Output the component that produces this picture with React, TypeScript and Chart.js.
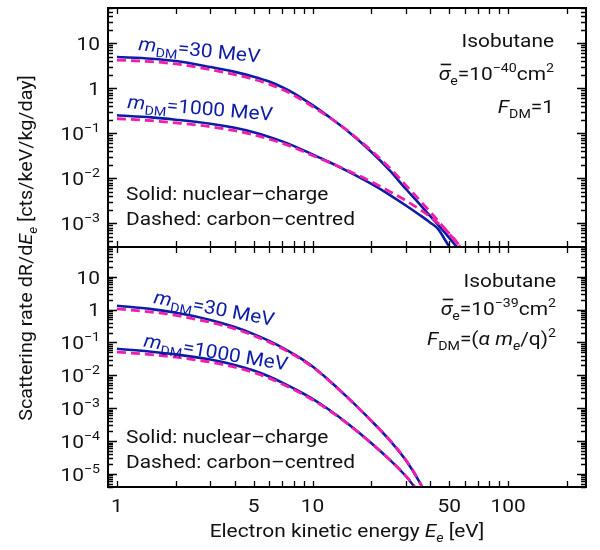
import React, { useEffect, useRef } from 'react';
import { Chart, registerables } from 'chart.js';
Chart.register(...registerables);

const FONT = 'Roboto, "DejaVu Sans", sans-serif';
const BLUE = '#0c1ca6';
const PINK = '#f41cac';

// ---------- data (Electron energy in eV, rate in cts/keV/kg/day) ----------
const topSolid30E = [1, 1.5, 2, 3, 4, 5, 6, 7, 8, 10, 12, 15, 20, 25, 30, 35, 40, 45, 50, 55, 60];
const topSolid30 = [4.9, 4.5, 4.0, 2.95, 2.3, 1.8, 1.4, 1.05, 0.78, 0.42, 0.24, 0.115, 0.0385, 0.0145, 0.0058, 0.0028, 0.00145, 0.00082, 0.00048, 0.00029, 0.00018];
const topDashed30E = [1, 1.5, 2, 3, 4, 5, 6, 7, 8, 10, 12, 15, 20, 25, 30, 35, 40, 45, 50, 55, 60];
const topDashed30 = [4.2, 3.87, 3.45, 2.58, 2.0, 1.57, 1.23, 0.93, 0.7, 0.39, 0.235, 0.117, 0.041, 0.0165, 0.007, 0.0034, 0.0018, 0.001, 0.00059, 0.00036, 0.00022];
const topSolid1000E = [1, 1.5, 2, 3, 4, 5, 6, 7, 8, 10, 12, 15, 20, 25, 30, 35, 40, 44, 47, 50, 55];
const topSolid1000 = [0.25, 0.225, 0.2, 0.163, 0.132, 0.105, 0.083, 0.066, 0.0525, 0.034, 0.0236, 0.0146, 0.0075, 0.0042, 0.0025, 0.00158, 0.00104, 0.00074, 0.00047, 0.0003, 0.00012];
const topDashed1000E = [1, 1.5, 2, 3, 4, 5, 6, 7, 8, 10, 12, 15, 20, 25, 30, 35, 40, 45, 50, 55, 60];
const topDashed1000 = [0.21, 0.19, 0.17, 0.14, 0.114, 0.092, 0.074, 0.06, 0.0485, 0.032, 0.0232, 0.0152, 0.0084, 0.005, 0.0032, 0.0021, 0.0014, 0.00092, 0.0006, 0.00037, 0.00022];

const botSolid30E = [1, 1.5, 2, 3, 4, 5, 6, 7, 8, 10, 12, 15, 20, 25, 30, 35, 40];
const botSolid30 = [1.31, 1.03, 0.8, 0.485, 0.293, 0.179, 0.111, 0.07, 0.0444, 0.0186, 0.0075, 0.0022, 0.00041, 0.0001, 0.000026, 0.000006, 0.0000012];
const botDashed30E = [1, 1.5, 2, 3, 4, 5, 6, 7, 8, 10, 12, 15, 20, 25, 30, 35, 40];
const botDashed30 = [1.05, 0.84, 0.66, 0.41, 0.26, 0.162, 0.102, 0.065, 0.042, 0.0178, 0.0073, 0.00218, 0.00041, 0.000102, 0.0000265, 0.0000062, 0.00000125];
const botSolid1000E = [1, 1.5, 2, 3, 4, 5, 6, 7, 8, 10, 12, 15, 20, 25, 30, 35];
const botSolid1000 = [0.064, 0.0523, 0.0433, 0.0301, 0.0207, 0.014, 0.0092, 0.006, 0.004, 0.00192, 0.00094, 0.000354, 0.000086, 0.0000258, 0.0000085, 0.0000027];
const botDashed1000E = [1, 1.5, 2, 3, 4, 5, 6, 7, 8, 10, 12, 15, 20, 25, 30, 35];
const botDashed1000 = [0.051, 0.0425, 0.0356, 0.0252, 0.0177, 0.0122, 0.0082, 0.0054, 0.0037, 0.0018, 0.0009, 0.000345, 0.000085, 0.0000258, 0.0000087, 0.0000028];

// ---------- axes ----------
const xMin = 0.9;
const xMax = 250;
const xTickLabels = [1, 5, 10, 50, 100];
const topYMin = 3e-4;
const topYMax = 60;
const topYTickLabels = ['10', '1', '10^−1', '10^−2', '10^−3'];
const topYTickValues = [10, 1, 0.1, 0.01, 0.001];
const botYMin = 4e-6;
const botYMax = 80;
const botYTickLabels = ['10', '1', '10^−1', '10^−2', '10^−3', '10^−4', '10^−5'];
const botYTickValues = [10, 1, 0.1, 0.01, 0.001, 1e-4, 1e-5];

const S = 19; // main text size
const SX = 1.1; // horizontal glyph stretch of the reference

type Seg = { t: string; it?: boolean; sub?: boolean; sup?: boolean; over?: boolean };

function drawRich(
  ctx: CanvasRenderingContext2D,
  segs: Seg[],
  x: number,
  y: number,
  size: number,
  align: 'left' | 'right' | 'center',
  sx: number = SX
) {
  const fonts = segs.map((s) => {
    const fs = s.sub || s.sup ? size * 0.68 : size;
    return `${s.it ? 'italic ' : ''}${fs}px ${FONT}`;
  });
  let w = 0;
  const ws = segs.map((s, i) => {
    ctx.font = fonts[i];
    const m = ctx.measureText(s.t).width * sx;
    w += m;
    return m;
  });
  let cx = align === 'right' ? x - w : align === 'center' ? x - w / 2 : x;
  ctx.textAlign = 'left';
  ctx.textBaseline = 'alphabetic';
  segs.forEach((s, i) => {
    ctx.font = fonts[i];
    const dy = s.sub ? size * 0.26 : s.sup ? -size * 0.42 : 0;
    ctx.save();
    ctx.translate(cx, y + dy);
    ctx.scale(sx, 1);
    ctx.fillText(s.t, 0, 0);
    ctx.restore();
    if (s.over) ctx.fillRect(cx + 2, y - size * 0.86, ws[i] - 1, 1.6);
    cx += ws[i];
  });
}

function tickSegs(label: string): Seg[] {
  const parts = label.split('^');
  return parts.length > 1 ? [{ t: parts[0] }, { t: parts[1], sup: true }] : [{ t: parts[0] }];
}

function mLabel(mass: string): Seg[] {
  return [{ t: 'm', it: true }, { t: 'DM', sub: true }, { t: '=' + mass + ' MeV' }];
}

type TextItem = { segs: Seg[]; x: number; y: number; angle?: number; align: 'left' | 'right' | 'center'; color: string; size?: number };

function logTicks(min: number, max: number) {
  const major: number[] = [];
  const minor: number[] = [];
  for (let e = Math.floor(Math.log10(min)) - 1; e <= Math.ceil(Math.log10(max)); e++) {
    for (let k = 1; k <= 9; k++) {
      const v = k * Math.pow(10, e);
      if (v < min * 0.9999 || v > max * 1.0001) continue;
      if (k === 1) major.push(v);
      else minor.push(v);
    }
  }
  return { major, minor };
}

function makePanelPlugin(cfg: {
  texts: TextItem[];
  yTickValues: number[];
  yTickLabels: string[];
  bottomAxis: boolean;
}) {
  return {
    id: 'panelDecor',
    afterDatasetsDraw(chart: any) {
      const ctx: CanvasRenderingContext2D = chart.ctx;
      const { left, right, top, bottom } = chart.chartArea;
      const xs = chart.scales.x;
      const ys = chart.scales.y;
      ctx.save();
      ctx.strokeStyle = '#000';
      ctx.fillStyle = '#000';
      // ticks
      ctx.lineWidth = 1.3;
      const yt = logTicks(ys.min, ys.max);
      const drawY = (v: number, len: number) => {
        const py = Math.round(ys.getPixelForValue(v)) + 0.5;
        ctx.beginPath();
        ctx.moveTo(left, py);
        ctx.lineTo(left + len, py);
        ctx.moveTo(right, py);
        ctx.lineTo(right - len, py);
        ctx.stroke();
      };
      yt.major.forEach((v) => drawY(v, 9));
      yt.minor.forEach((v) => drawY(v, 5));
      const xt = logTicks(xs.min, xs.max);
      [...xt.major, ...xt.minor].forEach((v) => {
        const px = Math.round(xs.getPixelForValue(v)) + 0.5;
        ctx.beginPath();
        ctx.moveTo(px, top);
        ctx.lineTo(px, top + 6);
        ctx.moveTo(px, bottom);
        ctx.lineTo(px, bottom - 6);
        ctx.stroke();
      });
      // frame
      ctx.lineWidth = 2;
      ctx.strokeRect(left, top, right - left, bottom - top);
      // y tick labels
      ctx.fillStyle = '#111';
      cfg.yTickValues.forEach((v, i) => {
        const py = ys.getPixelForValue(v);
        drawRich(ctx, tickSegs(cfg.yTickLabels[i]), left - 8, py + S * 0.36, S, 'right');
      });
      if (cfg.bottomAxis) {
        xTickLabels.forEach((v) => {
          const px = xs.getPixelForValue(v);
          drawRich(ctx, [{ t: String(v) }], px, bottom + 25, S, 'center');
        });
        drawRich(
          ctx,
          [{ t: 'Electron kinetic energy ' }, { t: 'E', it: true }, { t: 'e', it: true, sub: true }, { t: ' [eV]' }],
          (left + right) / 2,
          537,
          S,
          'center'
        );
        ctx.save();
        ctx.translate(32, 248);
        ctx.rotate(-Math.PI / 2);
        drawRich(
          ctx,
          [
            { t: 'Scattering rate d' },
            { t: 'R' },
            { t: '/d' },
            { t: 'E', it: true },
            { t: 'e', it: true, sub: true },
            { t: ' [cts/keV/kg/day]' },
          ],
          0,
          0,
          S,
          'center',
          1.04
        );
        ctx.restore();
      }
      // texts
      cfg.texts.forEach((t) => {
        ctx.save();
        ctx.fillStyle = t.color;
        ctx.translate(t.x, t.y);
        if (t.angle) ctx.rotate((t.angle * Math.PI) / 180);
        drawRich(ctx, t.segs, 0, 0, t.size || S, t.align);
        ctx.restore();
      });
      ctx.restore();
    },
  };
}

function ds(label: string, es: number[], vs: number[], dashed: boolean) {
  return {
    label,
    data: es.map((e, i) => ({ x: e, y: vs[i] })),
    borderColor: dashed ? PINK : BLUE,
    borderWidth: dashed ? 2.8 : 2.6,
    borderDash: dashed ? [9, 5] : [],
    pointRadius: 0,
    fill: false,
    cubicInterpolationMode: 'monotone' as const,
    order: dashed ? 0 : 1,
  };
}

function makeConfig(datasets: any[], yMin: number, yMax: number, padding: any, plugin: any) {
  return {
    type: 'line' as const,
    data: { datasets },
    options: {
      animation: false as const,
      responsive: false,
      maintainAspectRatio: false,
      layout: { padding },
      plugins: { legend: { display: false }, tooltip: { enabled: false } },
      scales: {
        x: { type: 'logarithmic' as const, min: xMin, max: xMax, display: false },
        y: { type: 'logarithmic' as const, min: yMin, max: yMax, display: false },
      },
    },
    plugins: [plugin],
  };
}

const notes = (y1: number, y2: number): TextItem[] => [
  { segs: [{ t: 'Solid: nuclear–charge' }], x: 126, y: y1, align: 'left', color: '#111' },
  { segs: [{ t: 'Dashed: carbon–centred' }], x: 126, y: y2, align: 'left', color: '#111' },
];

export default function App() {
  const topRef = useRef<HTMLCanvasElement>(null);
  const botRef = useRef<HTMLCanvasElement>(null);

  useEffect(() => {
    const topTexts: TextItem[] = [
      { segs: mLabel('30'), x: 138, y: 50, angle: 5.9, align: 'left', color: BLUE },
      { segs: mLabel('1000'), x: 127, y: 108, angle: 5, align: 'left', color: BLUE },
      { segs: [{ t: 'Isobutane' }], x: 554, y: 47, align: 'right', color: '#111' },
      {
        segs: [{ t: 'σ', it: true, over: true }, { t: 'e', sub: true }, { t: '=10' }, { t: '−40', sup: true }, { t: 'cm' }, { t: '2', sup: true }],
        x: 554, y: 80, align: 'right', color: '#111',
      },
      { segs: [{ t: 'F', it: true }, { t: 'DM', sub: true }, { t: '=1' }], x: 554, y: 113, align: 'right', color: '#111' },
      ...notes(200, 224.5),
    ];
    const botTexts: TextItem[] = [
      { segs: mLabel('30'), x: 153, y: 303, angle: 10.8, align: 'left', color: BLUE },
      { segs: mLabel('1000'), x: 143, y: 346.5, angle: 9.5, align: 'left', color: BLUE },
      { segs: [{ t: 'Isobutane' }], x: 556, y: 287, align: 'right', color: '#111' },
      {
        segs: [{ t: 'σ', it: true, over: true }, { t: 'e', sub: true }, { t: '=10' }, { t: '−39', sup: true }, { t: 'cm' }, { t: '2', sup: true }],
        x: 556, y: 315, align: 'right', color: '#111',
      },
      {
        segs: [
          { t: 'F', it: true }, { t: 'DM', sub: true }, { t: '=(' }, { t: 'α', it: true }, { t: ' ' },
          { t: 'm', it: true }, { t: 'e', it: true, sub: true }, { t: '/q)' }, { t: '2', sup: true },
        ],
        x: 556, y: 345, align: 'right', color: '#111',
      },
      ...notes(443, 468),
    ];

    const top = new Chart(
      topRef.current!,
      makeConfig(
        [
          ds('30 solid', topSolid30E, topSolid30, false),
          ds('1000 solid', topSolid1000E, topSolid1000, false),
          ds('30 dashed', topDashed30E, topDashed30, true),
          ds('1000 dashed', topDashed1000E, topDashed1000, true),
        ],
        topYMin,
        topYMax,
        { left: 108, right: 14, top: 8, bottom: 303 },
        makePanelPlugin({ texts: topTexts, yTickValues: topYTickValues, yTickLabels: topYTickLabels, bottomAxis: false })
      ) as any
    );
    const bot = new Chart(
      botRef.current!,
      makeConfig(
        [
          ds('30 solid', botSolid30E, botSolid30, false),
          ds('1000 solid', botSolid1000E, botSolid1000, false),
          ds('30 dashed', botDashed30E, botDashed30, true),
          ds('1000 dashed', botDashed1000E, botDashed1000, true),
        ],
        botYMin,
        botYMax,
        { left: 108, right: 14, top: 247, bottom: 63 },
        makePanelPlugin({ texts: botTexts, yTickValues: botYTickValues, yTickLabels: botYTickLabels, bottomAxis: true })
      ) as any
    );
    return () => {
      top.destroy();
      bot.destroy();
    };
  }, []);

  const cs: React.CSSProperties = { position: 'absolute', left: 0, top: 0, width: 600, height: 550 };
  return (
    <div style={{ position: 'absolute', left: 0, top: 0, width: 600, height: 550, background: '#fff' }}>
      <canvas ref={topRef} width={600} height={550} style={cs} />
      <canvas ref={botRef} width={600} height={550} style={cs} />
    </div>
  );
}
